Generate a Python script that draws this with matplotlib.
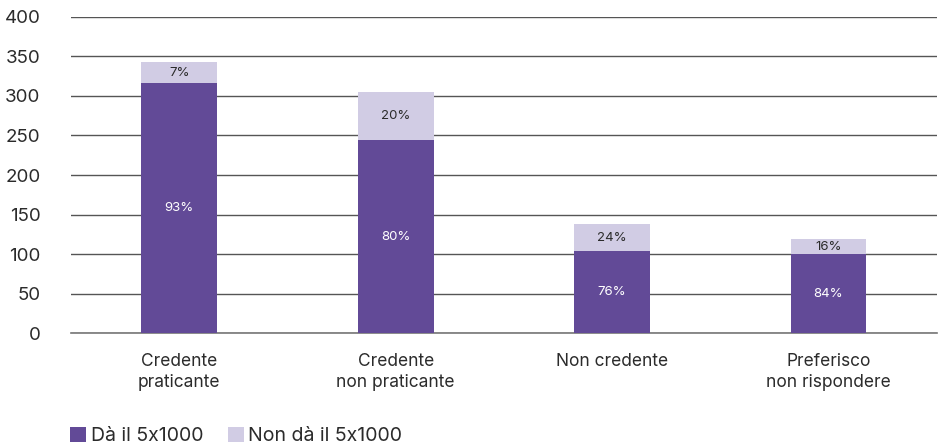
import matplotlib
matplotlib.use("Agg")
import matplotlib.pyplot as plt
from matplotlib.patches import Patch

plt.rcParams['font.family'] = ['Inter', 'DejaVu Sans']

categories = ["Credente\npraticante", "Credente\nnon praticante", "Non credente", "Preferisco\nnon rispondere"]
da_values = [316, 244, 104, 100]
non_da_values = [27, 61, 34, 19]
da_pct = ["93%", "80%", "76%", "84%"]
non_da_pct = ["7%", "20%", "24%", "16%"]
series_labels = ["Dà il 5x1000", "Non dà il 5x1000"]
yticks = [0, 50, 100, 150, 200, 250, 300, 350, 400]

dark = "#624A97"
light = "#D1CCE4"
text_col = "#2b2b2b"

fig = plt.figure(figsize=(9.39, 4.47), dpi=100)
ax = fig.add_axes([0.0756, 0.254, 0.922, 0.7086])

x = list(range(len(categories)))
w = 0.35
ax.bar(x, da_values, width=w, color=dark, zorder=3)
ax.bar(x, non_da_values, width=w, bottom=da_values, color=light, zorder=3)

for i in x:
    ax.text(i, da_values[i] / 2, da_pct[i], ha="center", va="center",
            color="white", fontsize=9.5, zorder=4)
    ax.text(i, da_values[i] + non_da_values[i] / 2, non_da_pct[i], ha="center",
            va="center", color=text_col, fontsize=9.5, zorder=4)

ax.set_xlim(-0.5, 3.5)
ax.set_ylim(0, 400)
ax.set_yticks(yticks)
ax.set_yticklabels([str(t) for t in yticks])
ax.set_xticks(x)
ax.set_xticklabels(categories)
ax.tick_params(axis="y", length=0, pad=22, labelsize=13.5, labelcolor=text_col)
ax.tick_params(axis="x", length=0, pad=14, labelsize=12.5, labelcolor=text_col)
for lab in ax.get_xticklabels():
    lab.set_linespacing(1.3)

ax.grid(axis="y", color="#555555", linewidth=1, zorder=0)
ax.axhline(0, color="#777777", linewidth=1.2, zorder=2, clip_on=False)
for s in ax.spines.values():
    s.set_visible(False)

handles = [Patch(facecolor=dark, edgecolor="none"), Patch(facecolor=light, edgecolor="none")]
fig.legend(handles, series_labels, loc="center left", bbox_to_anchor=(0.0745, 0.024),
           ncol=2, frameon=False, fontsize=14, handlelength=0.82, handleheight=0.82,
           handletextpad=0.25, columnspacing=1.25, labelcolor=text_col,
           borderpad=0, borderaxespad=0)

fig.savefig("out.png", dpi=100)
